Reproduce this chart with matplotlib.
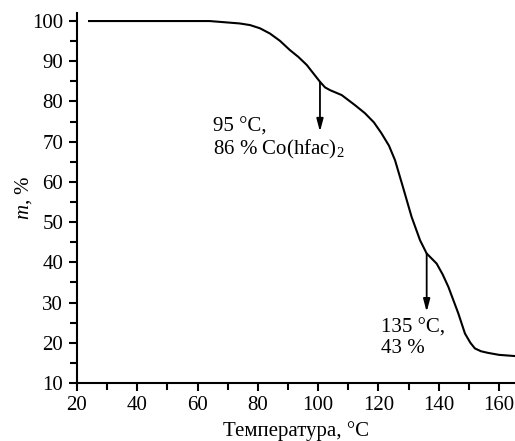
import matplotlib
matplotlib.use('Agg')
from matplotlib import pyplot as plt
from matplotlib.ticker import MultipleLocator

plt.rcParams['font.family'] = ['Liberation Serif', 'DejaVu Serif']
plt.rcParams['mathtext.fontset'] = 'custom'
plt.rcParams['mathtext.rm'] = 'Liberation Serif'
plt.rcParams['mathtext.it'] = 'Liberation Serif:italic'

# TGA curve
temp = [24, 40, 54, 64, 70.7, 74, 77.4, 80.7, 84, 87.3, 90.6, 93.4, 96.2, 98.4, 100.6,
        102.3, 104, 107.8, 112.2, 115.5, 118.5, 121, 123.5, 125.5, 128.1, 131, 133.8,
        136, 139.3, 141.3, 143.2, 146.5, 148.7, 150.5, 152, 154, 156.3, 160, 165.3]
mass = [100, 100, 100, 100, 99.6, 99.4, 99.0, 98.2, 96.9, 95.1, 92.8, 91.1, 89.1, 87.0, 84.9,
        83.5, 82.8, 81.6, 79.1, 77.1, 74.8, 72.1, 69.0, 65.4, 58.8, 51.3, 45.5,
        42.2, 39.7, 37.0, 33.9, 27.3, 22.3, 20.0, 18.6, 17.9, 17.5, 17.0, 16.7]

# arrows: (x, y_start, y_end) and labels (x, baseline of last line, text)
arrows = [(100.6, 84.9, 72.5), (136.0, 42.2, 27.7)]
labels = [(65.1, 66.7, '95 °C,\n86 % Co(hfac)$_2$'),
          (121.0, 17.4, '135 °C,\n43 %')]

fs = 15

fig = plt.figure(figsize=(5.15, 4.41), dpi=100)
ax = fig.add_axes([0.1495, 0.1315, 0.8505, 0.839])

ax.plot(temp, mass, c='black', lw=1.5)

for x, y0, y1 in arrows:
    ax.annotate('', xy=(x, y1), xytext=(x, y0),
                arrowprops=dict(arrowstyle='-|>,head_length=0.75,head_width=0.2',
                                color='black', lw=1.3, mutation_scale=10,
                                shrinkA=0, shrinkB=0))
for x, y, s in labels:
    ax.text(x, y, s, fontsize=fs, ha='left', va='baseline', linespacing=1.1)

ax.set_xlim(20, 165.3)
ax.set_ylim(10, 102)
ax.xaxis.set_major_locator(MultipleLocator(20))
ax.xaxis.set_minor_locator(MultipleLocator(10))
ax.yaxis.set_major_locator(MultipleLocator(10))
ax.yaxis.set_minor_locator(MultipleLocator(5))

for side in ['top', 'right']:
    ax.spines[side].set_visible(False)
for side in ['left', 'bottom']:
    ax.spines[side].set_linewidth(1.5)

ax.tick_params(axis='both', which='major', direction='out', length=6, width=1.5,
               labelsize=fs)
ax.tick_params(axis='x', which='major', pad=3)
ax.tick_params(axis='y', which='major', pad=4)
ax.tick_params(axis='both', which='minor', direction='out', length=5, width=1.5)

ax.set_xlabel('Температура, °C', fontsize=fs, va='top')
ax.set_ylabel('$m$, %', fontsize=fs, va='center')
ax.xaxis.set_label_coords(0.5, -0.103)
ax.yaxis.set_label_coords(-0.123, 0.5)

plt.savefig('out.png', dpi=100)
